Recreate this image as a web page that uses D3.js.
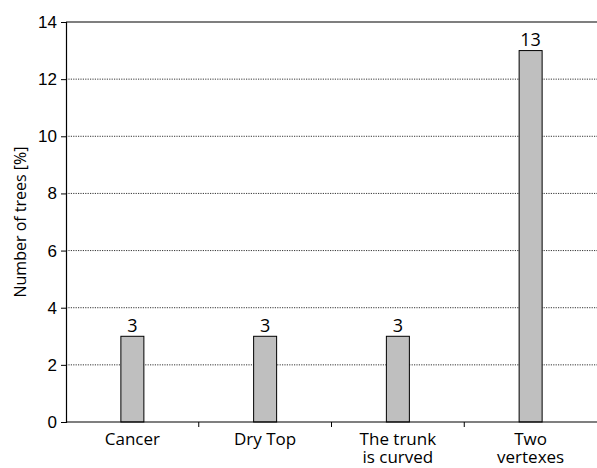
<!DOCTYPE html>
<html>
<head>
<meta charset="utf-8">
<script src="https://cdn.jsdelivr.net/npm/d3@7"></script>
<style>
  body { margin: 0; background: #fff; }
  svg { display: block; font-family: "Open Sans", "Noto Sans", sans-serif; }
  .grid line { stroke: #000; stroke-dasharray: 1.2 1.2; stroke-width: 0.8; }
</style>
</head>
<body>
<svg id="chart"></svg>
<script>
const categories = [["Cancer"], ["Dry Top"], ["The trunk", "is curved"], ["Two", "vertexes"]];
const values = [3, 3, 3, 13];
const yTicks = [0, 2, 4, 6, 8, 10, 12, 14];

const width = 597, height = 468;
const margin = {top: 22, right: 0, bottom: 46, left: 66};

const svg = d3.select("#chart")
    .attr("width", width)
    .attr("height", height);

const x = d3.scaleBand()
    .domain(d3.range(categories.length))
    .range([margin.left, width - margin.right]);

const y = d3.scaleLinear()
    .domain([0, 14])
    .range([height - margin.bottom, margin.top]);

// dotted grid lines
svg.append("g")
    .attr("class", "grid")
    .selectAll("line")
    .data(yTicks.filter(t => t > 0 && t < 14))
    .enter().append("line")
    .attr("x1", margin.left)
    .attr("x2", width - margin.right)
    .attr("y1", d => y(d))
    .attr("y2", d => y(d));

// top frame line
svg.append("line")
    .attr("x1", margin.left)
    .attr("x2", width - margin.right)
    .attr("y1", y(14))
    .attr("y2", y(14))
    .attr("stroke", "#000")
    .attr("stroke-width", 1.2);

// bars
const barW = 23;
svg.append("g")
    .selectAll("rect")
    .data(values)
    .enter().append("rect")
    .attr("x", (d, i) => x(i) + x.bandwidth() / 2 - barW / 2)
    .attr("y", d => y(d))
    .attr("width", barW)
    .attr("height", d => y(0) - y(d))
    .attr("fill", "#bfbfbf")
    .attr("stroke", "#000")
    .attr("stroke-width", 1);

// value labels
svg.append("g")
    .selectAll("text")
    .data(values)
    .enter().append("text")
    .attr("x", (d, i) => x(i) + x.bandwidth() / 2)
    .attr("y", d => y(d) - 4.5)
    .attr("text-anchor", "middle")
    .attr("font-size", 18)
    .text(d => d);

// y axis
const yAxis = svg.append("g")
    .attr("transform", `translate(${margin.left},0)`)
    .call(d3.axisLeft(y).tickValues(yTicks).tickSize(5).tickPadding(4));
yAxis.select(".domain").attr("stroke-width", 1.2);
yAxis.selectAll("text").attr("font-size", 17).attr("fill", "#000").style("font-family", "inherit");

// x axis with ticks at band boundaries
const xg = svg.append("g")
    .attr("transform", `translate(0,${y(0)})`);
xg.append("line")
    .attr("x1", margin.left)
    .attr("x2", width - margin.right)
    .attr("stroke", "#000")
    .attr("stroke-width", 1.2);
xg.selectAll(".tk")
    .data(d3.range(1, categories.length))
    .enter().append("line")
    .attr("class", "tk")
    .attr("x1", i => x(i))
    .attr("x2", i => x(i))
    .attr("y1", 0)
    .attr("y2", 5)
    .attr("stroke", "#000");
xg.selectAll(".lbl")
    .data(categories)
    .enter().append("text")
    .attr("class", "lbl")
    .attr("text-anchor", "middle")
    .attr("font-size", 17)
    .attr("x", (d, i) => x(i) + x.bandwidth() / 2)
    .each(function (d) {
        d3.select(this).selectAll("tspan")
            .data(d)
            .enter().append("tspan")
            .attr("x", d3.select(this).attr("x"))
            .attr("y", (t, j) => 23 + j * 18)
            .text(t => t);
    });

// y axis title
svg.append("text")
    .attr("transform", `translate(26,${(y(0) + y(14)) / 2}) rotate(-90)`)
    .attr("text-anchor", "middle")
    .attr("font-size", 16)
    .text("Number of trees [%]");
</script>
</body>
</html>
